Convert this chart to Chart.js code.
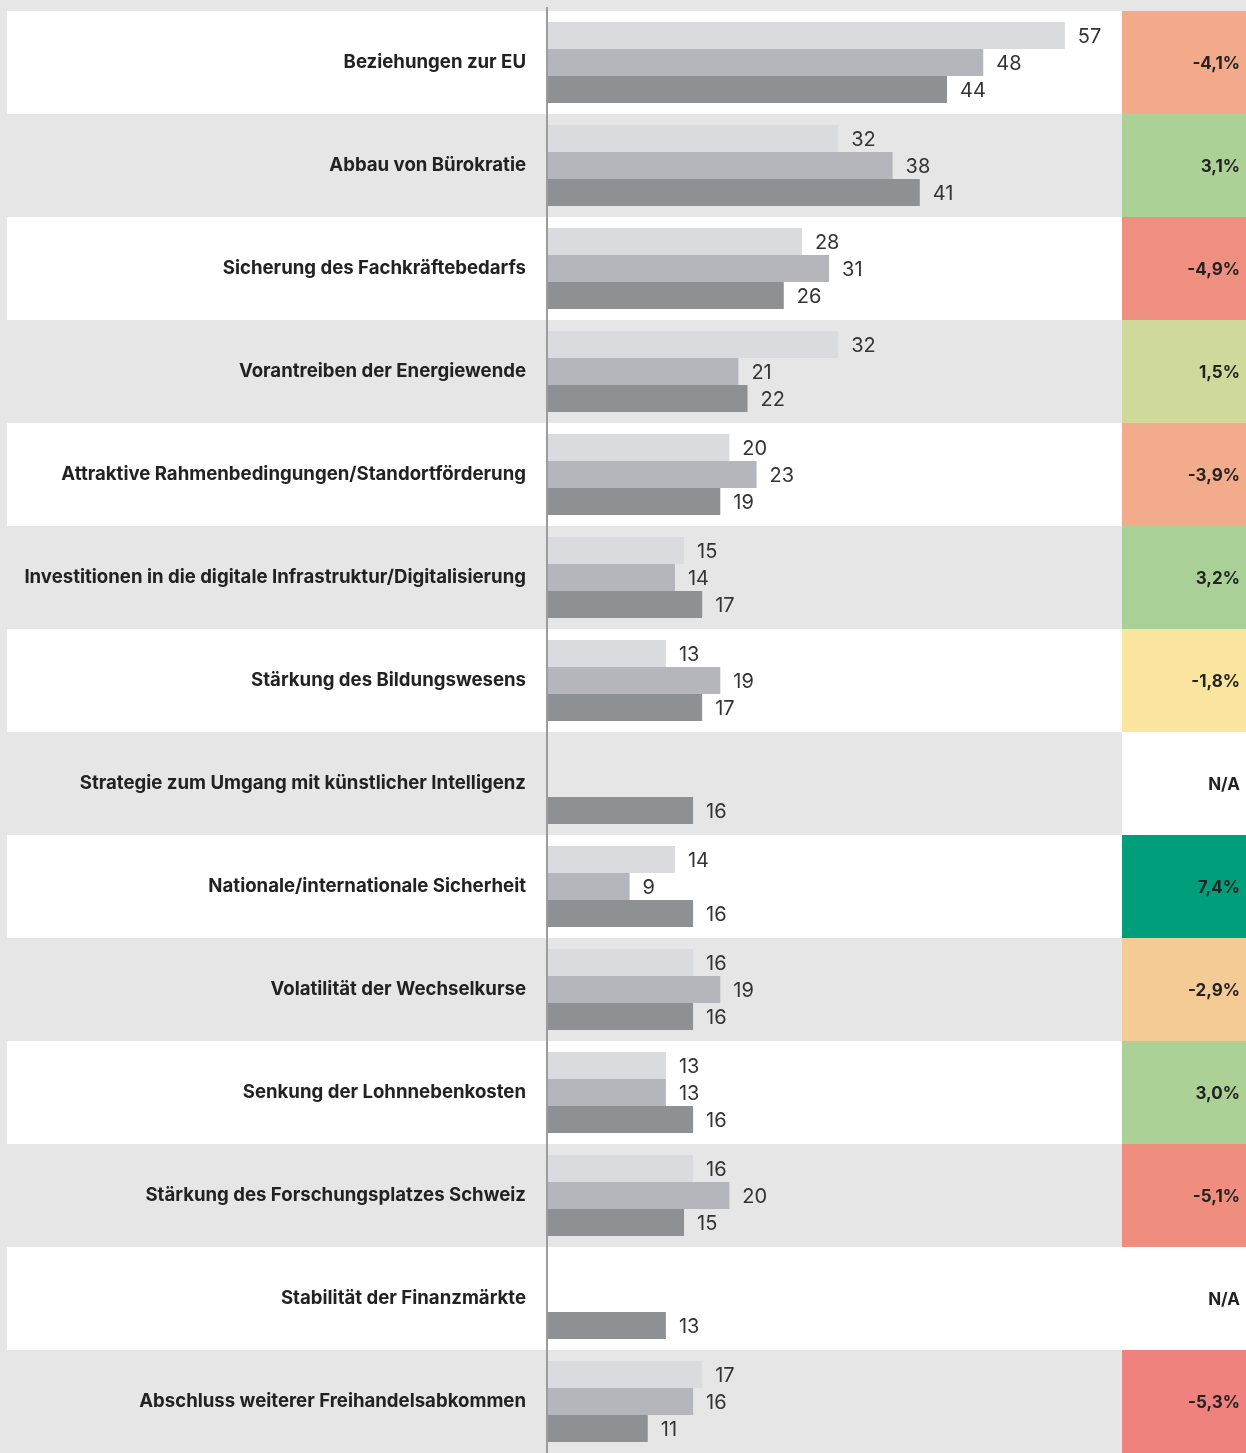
<!DOCTYPE html>
<html>
<head>
<meta charset="utf-8">
<script src="https://cdn.jsdelivr.net/npm/chart.js@4"></script>
<style>
  html, body { margin:0; padding:0; background:#e6e6e6; }
  #wrap { position:relative; width:1246px; height:1453px; }
</style>
</head>
<body>
<div id="wrap"><canvas id="prioChart"></canvas></div>
<script>
const categories = [
  'Beziehungen zur EU',
  'Abbau von Bürokratie',
  'Sicherung des Fachkräftebedarfs',
  'Vorantreiben der Energiewende',
  'Attraktive Rahmenbedingungen/Standortförderung',
  'Investitionen in die digitale Infrastruktur/Digitalisierung',
  'Stärkung des Bildungswesens',
  'Strategie zum Umgang mit künstlicher Intelligenz',
  'Nationale/internationale Sicherheit',
  'Volatilität der Wechselkurse',
  'Senkung der Lohnnebenkosten',
  'Stärkung des Forschungsplatzes Schweiz',
  'Stabilität der Finanzmärkte',
  'Abschluss weiterer Freihandelsabkommen'
];
const series1 = [57, 32, 28, 32, 20, 15, 13, null, 14, 16, 13, 16, null, 17];
const series2 = [48, 38, 31, 21, 23, 14, 19, null, 9, 19, 13, 20, null, 16];
const series3 = [44, 41, 26, 22, 19, 17, 17, 16, 16, 16, 16, 15, 13, 11];
const changes = ['-4,1%','3,1%','-4,9%','1,5%','-3,9%','3,2%','-1,8%','N/A','7,4%','-2,9%','3,0%','-5,1%','N/A','-5,3%'];
const changeColors = ['#f2aa8b','#abd197','#ef8f80','#cfd99b','#f2ab8b','#a9d197','#f9e59d',null,'#009e7a','#f4ca95','#abd197','#ef8d7f',null,'#ef827f'];

const FONT = 'Inter, "Noto Sans", sans-serif';
const CELL_X = 1122;

const rowsPlugin = {
  id: 'rows',
  beforeDraw(chart) {
    const { ctx, chartArea, scales } = chart;
    const y = scales.y;
    const h = (chartArea.bottom - chartArea.top) / categories.length;
    ctx.save();
    ctx.fillStyle = '#e6e6e6';
    ctx.fillRect(0, 0, chart.width, chart.height);
    categories.forEach((c, i) => {
      const top = y.getPixelForValue(i) - h / 2;
      if (i % 2 === 0) {
        ctx.fillStyle = '#ffffff';
        ctx.fillRect(7, top, CELL_X - 7, h);
      }
      ctx.fillStyle = changeColors[i] || '#ffffff';
      ctx.fillRect(CELL_X, top, chart.width - CELL_X, h);
    });
    ctx.restore();
  },
  afterDatasetsDraw(chart) {
    const { ctx, chartArea, scales } = chart;
    ctx.save();
    // axis line
    ctx.strokeStyle = '#9c9c9c';
    ctx.lineWidth = 2;
    ctx.beginPath();
    ctx.moveTo(chartArea.left - 1, 7);
    ctx.lineTo(chartArea.left - 1, chart.height);
    ctx.stroke();
    // value labels
    ctx.font = '20px ' + FONT;
    ctx.fillStyle = '#333333';
    ctx.textBaseline = 'middle';
    ctx.textAlign = 'left';
    chart.data.datasets.forEach((ds, di) => {
      chart.getDatasetMeta(di).data.forEach((bar, i) => {
        if (ds.data[i] == null) return;
        ctx.fillText(String(ds.data[i]), bar.x + 13, bar.y + 1);
      });
    });
    // change column
    ctx.font = 'bold 17px ' + FONT;
    ctx.fillStyle = '#222222';
    ctx.textAlign = 'right';
    categories.forEach((c, i) => {
      ctx.fillText(changes[i], chart.width - 6, scales.y.getPixelForValue(i) + 1);
    });
    ctx.restore();
  }
};

new Chart(document.getElementById('prioChart'), {
  type: 'bar',
  data: {
    labels: categories,
    datasets: [
      { label: '2023', data: series1, backgroundColor: '#dadbdf' },
      { label: '2024', data: series2, backgroundColor: '#b4b6bc' },
      { label: '2025', data: series3, backgroundColor: '#8e9194' }
    ]
  },
  options: {
    indexAxis: 'y',
    responsive: true,
    maintainAspectRatio: false,
    animation: false,
    layout: { padding: { top: 11, right: 124, bottom: 0, left: 0 } },
    datasets: { bar: { categoryPercentage: 0.786, barPercentage: 1.0, borderWidth: 0 } },
    plugins: { legend: { display: false }, tooltip: { enabled: false } },
    scales: {
      x: { display: false, min: 0, max: 63.3 },
      y: {
        afterFit(scale) {
          scale.width = 548;
          scale.paddingTop = 0;
          scale.paddingBottom = 0;
        },
        grid: { display: false, drawTicks: false },
        border: { display: false },
        ticks: { color: '#222222', padding: 22, font: { family: FONT, size: 18.6, weight: 'bold' } }
      }
    }
  },
  plugins: [rowsPlugin]
});
</script>
</body>
</html>
